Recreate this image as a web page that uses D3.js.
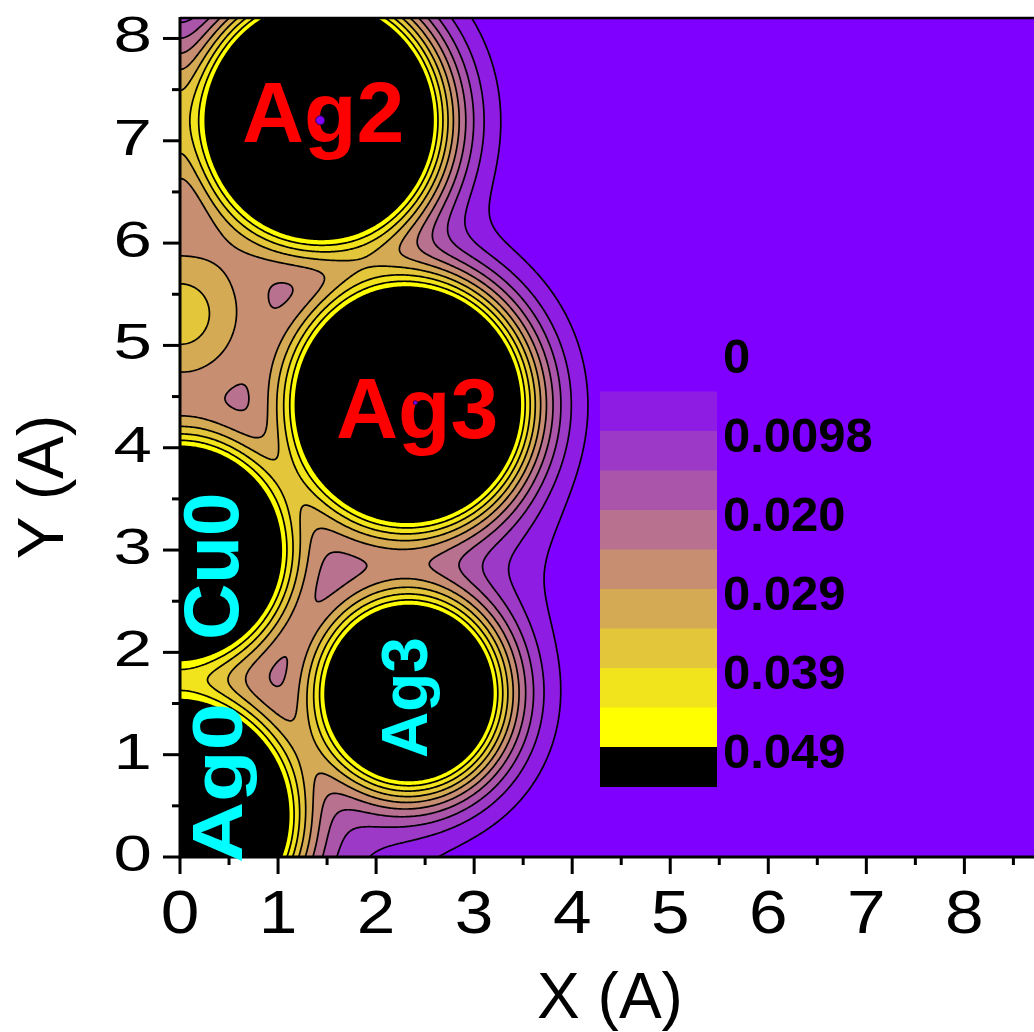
<!DOCTYPE html>
<html>
<head>
<meta charset="utf-8">
<script src="https://cdn.jsdelivr.net/npm/d3@7"></script>
<style>
  html, body { margin: 0; padding: 0; background: #ffffff; }
  svg { display: block; }
  text { font-family: "Liberation Sans", Arial, sans-serif; }
</style>
</head>
<body>
<svg id="chart" width="1034" height="1032"></svg>
<script>
// ---------------- data ----------------
// atoms in the slice: name, centre (Å), radius of the black (>0.049) core (Å)
const atomName = ["Ag2", "Ag3", "Ag3", "Cu0", "Ag0"];
const atomX    = [1.43, 2.33, 2.34, 0.00, 0.00];
const atomY    = [7.20, 4.42, 1.60, 2.98, 0.40];
const atomR    = [1.15, 1.14, 0.85, 1.02, 1.10];
// density maximum at the left edge (out-of-plane contribution)
const bumpX = [0.0];
const bumpY = [5.3];
const bumpAmp = [0.061];
const bumpWidth = [0.83];
// interstitial hollows (shallow minima between atoms) and surface hollows
const hollowX = [0.92, 0.64, 1.63, 0.90, 3.40, 1.70];
const hollowY = [5.49, 4.52, 2.92, 1.74, 2.90, -0.30];
const hollowAmp = [0.0033, 0.0035, 0.0075, 0.0037, 0.0030, 0.0070];
const hollowWidth = [0.45, 0.45, 0.5, 0.4, 0.7, 0.8];
// density dips at the nuclei of Ag2 and Ag3
const holeX = [1.43, 2.40];
const holeY = [7.20, 4.44];
const holeSize = [4.5, 2];
// contour levels and colours
const levels = [0, 0.0049, 0.0098, 0.0147, 0.0196, 0.0245, 0.0294, 0.0343, 0.0392, 0.0441, 0.0490];
const bandColors = ["#8000ff", "#8e1ce3", "#9c39c6", "#aa55aa", "#b8718e", "#c78e71",
                    "#d5aa55", "#e3c639", "#f1e31c", "#ffff00", "#000000"];
const legendLabels = ["0", "0.0098", "0.020", "0.029", "0.039", "0.049"];
const legendLabelIdx = [0, 2, 4, 6, 8, 10];
const xTicks = [0, 1, 2, 3, 4, 5, 6, 7, 8];
const yTicks = [0, 1, 2, 3, 4, 5, 6, 7, 8];
// atom labels: text, colour, anchor (Å), rotation
const labelText  = ["Ag2", "Ag3", "Cu0", "Ag3", "Ag0"];
const labelColor = ["#ff0000", "#ff0000", "#00ffff", "#00ffff", "#00ffff"];
const labelX     = [0.632, 1.59, 0.592, 2.52, 0.632];
const labelY     = [6.99, 4.096, 2.12, 0.968, -0.059];
const labelRot   = [0, 0, -90, -90, -90];
const labelSize  = [86, 86, 78, 64, 70];
const labelLen   = [null, null, null, null, 160];

// model parameters for the density field
const edgeV = 0.112, decay = 4.45, sat = 0.0871;

// ---------------- layout ----------------
const svg = d3.select("#chart");
const pL = 180, pR = 1034, pT = 18, pB = 857;
const x = d3.scaleLinear().domain([0, 8.71]).range([pL, pR]);
const y = d3.scaleLinear().domain([0, 8.2]).range([pB, pT]);

// ---------------- density grid ----------------
const sites = [];
atomX.forEach((ax, i) => {
  sites.push([ax, atomY[i], atomR[i]]);
  if (ax > 0) sites.push([-ax, atomY[i], atomR[i]]);
});
const gauss = [];
bumpX.forEach((bx, i) => gauss.push([bx, bumpY[i], bumpAmp[i], bumpWidth[i]]));
hollowX.forEach((hx, i) => gauss.push([hx, hollowY[i], hollowAmp[i], hollowWidth[i]]));

const step = 0.015, yTop = 8.25;
const nx = Math.ceil(8.8 / step) + 1, ny = Math.ceil(8.3 / step) + 1;
const values = new Float64Array(nx * ny);
for (let j = 0; j < ny; j++) {
  const py = yTop - j * step;
  for (let i = 0; i < nx; i++) {
    const px = i * step;
    let v = 0;
    for (const s of sites) {
      const r = Math.hypot(px - s[0], py - s[1]);
      v += edgeV * Math.exp(-decay * (r - s[2]));
    }
    for (const g of gauss) {
      const d = Math.hypot(px - g[0], py - g[1]) / g[3];
      v += g[2] * Math.exp(-d * d);
    }
    values[j * nx + i] = v / (1 + v / sat);
  }
}

const contours = d3.contours().size([nx, ny]).thresholds(levels.slice(1))(values);
const proj = d3.geoTransform({
  point: function (cx, cy) {
    this.stream.point(x((cx - 0.5) * step), y(yTop - (cy - 0.5) * step));
  }
});
const path = d3.geoPath(proj);

svg.append("defs").append("clipPath").attr("id", "plotclip")
  .append("rect").attr("x", pL).attr("y", pT).attr("width", pR - pL).attr("height", pB - pT);

const plot = svg.append("g").attr("clip-path", "url(#plotclip)");
plot.append("rect").attr("x", pL).attr("y", pT).attr("width", pR - pL).attr("height", pB - pT)
  .attr("fill", bandColors[0]);
plot.selectAll("path.fill").data(contours).join("path")
  .attr("class", "fill")
  .attr("d", path)
  .attr("fill", (d, i) => bandColors[i + 1]);
plot.selectAll("path.line").data(contours).join("path")
  .attr("class", "line")
  .attr("d", path)
  .attr("fill", "none")
  .attr("stroke", "#000")
  .attr("stroke-width", 1.7)
  .attr("stroke-linejoin", "round");

// ---------------- legend ----------------
const ly = d3.scaleLinear().domain([0, 0.049]).range([352, 747]);
const lg = svg.append("g");
for (let i = 1; i < levels.length; i++) {
  const y0 = ly(levels[i]);
  const y1 = i + 1 < levels.length ? ly(levels[i + 1]) : ly(levels[i]) + (ly(levels[1]) - ly(levels[0]));
  lg.append("rect").attr("x", 600).attr("y", y0).attr("width", 117).attr("height", y1 - y0 + 0.5)
    .attr("fill", bandColors[i]);
}
legendLabels.forEach((t, k) => {
  lg.append("text").attr("x", 723).attr("y", ly(levels[legendLabelIdx[k]]) + 21)
    .attr("font-size", 49).attr("font-weight", "bold").attr("fill", "#000").text(t);
});

// ---------------- axes ----------------
const axg = svg.append("g").attr("stroke", "#000");
axg.append("line").attr("x1", pL).attr("x2", pL).attr("y1", pT - 1).attr("y2", pB + 1.5).attr("stroke-width", 3);
axg.append("line").attr("x1", pL - 1.5).attr("x2", pR).attr("y1", pB).attr("y2", pB).attr("stroke-width", 3);
axg.append("line").attr("x1", pL).attr("x2", pR).attr("y1", pT).attr("y2", pT).attr("stroke-width", 2.5);
d3.range(0, 8.2, 0.5).forEach(v => {
  const major = Math.abs(v - Math.round(v)) < 1e-6;
  const len = major ? 17 : 8;
  axg.append("line").attr("x1", pL - len).attr("x2", pL).attr("y1", y(v)).attr("y2", y(v)).attr("stroke-width", 3);
});
d3.range(0, 8.75, 0.5).forEach(v => {
  const major = Math.abs(v - Math.round(v)) < 1e-6;
  const len = major ? 17 : 8;
  axg.append("line").attr("x1", x(v)).attr("x2", x(v)).attr("y1", pB).attr("y2", pB + len).attr("stroke-width", 3);
});
yTicks.forEach(v => {
  svg.append("text").attr("transform", `translate(152,${y(v) + 14}) scale(1.38,1)`)
    .attr("text-anchor", "end").attr("font-size", 50).attr("fill", "#000").text(v);
});
xTicks.forEach(v => {
  svg.append("text").attr("transform", `translate(${x(v)},933) scale(1.12,1)`)
    .attr("text-anchor", "middle").attr("font-size", 62).attr("fill", "#000").text(v);
});
svg.append("text").attr("x", 610).attr("y", 1018).attr("text-anchor", "middle")
  .attr("font-size", 64).attr("fill", "#000").text("X (A)");
svg.append("text").attr("transform", "translate(63,487) rotate(-90)").attr("text-anchor", "middle")
  .attr("font-size", 64).attr("fill", "#000").text("Y (A)");

// ---------------- atom labels ----------------
labelText.forEach((t, i) => {
  const tx = svg.append("text")
    .attr("transform", `translate(${x(labelX[i])},${y(labelY[i])}) rotate(${labelRot[i]})`)
    .attr("font-size", labelSize[i]).attr("font-weight", "bold").attr("fill", labelColor[i]).text(t);
  if (labelLen[i]) tx.attr("textLength", labelLen[i]).attr("lengthAdjust", "spacingAndGlyphs");
});
// nucleus dips (lowest band) drawn on top, as in the original
svg.selectAll("circle.hole").data(holeX).join("circle")
  .attr("class", "hole")
  .attr("cx", (d) => x(d)).attr("cy", (d, i) => y(holeY[i])).attr("r", (d, i) => holeSize[i])
  .attr("fill", bandColors[0]).attr("stroke", "#2a0055").attr("stroke-width", 1);
</script>
</body>
</html>
